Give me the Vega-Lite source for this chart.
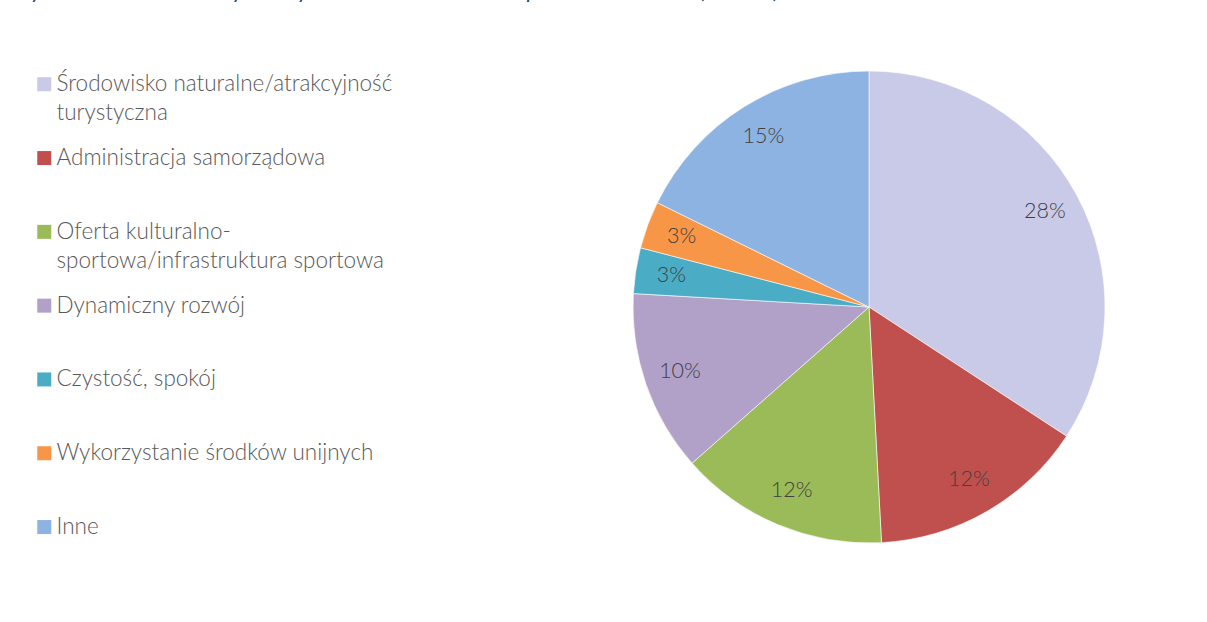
{
  "$schema": "https://vega.github.io/schema/vega-lite/v6.json",
  "width": 472,
  "height": 472,
  "autosize": {"type": "none"},
  "padding": {"left": 633, "top": 71, "right": 102, "bottom": 79},
  "background": "white",
  "config": {
    "view": {"stroke": null},
    "font": "Lato",
    "style": {"guide-label": {"lineHeight": 29}}
  },
  "title": {
    "text": "Wykres 28 Mocne strony Gminy Krosno Odrzańskie w opinii mieszkańców (N=201)",
    "anchor": "start",
    "frame": "group",
    "dx": -623,
    "offset": 49,
    "baseline": "alphabetic",
    "font": "Lato",
    "fontSize": 22.5,
    "fontStyle": "italic",
    "fontWeight": "normal",
    "color": "#1F497D"
  },
  "data": {
    "values": [
      {"kategoria": "Środowisko naturalne/atrakcyjność turystyczna", "wartosc": 28.4, "etykieta": "28%", "kolejnosc": 1},
      {"kategoria": "Administracja samorządowa", "wartosc": 12.4, "etykieta": "12%", "kolejnosc": 2},
      {"kategoria": "Oferta kulturalno-sportowa/infrastruktura sportowa", "wartosc": 11.9, "etykieta": "12%", "kolejnosc": 3},
      {"kategoria": "Dynamiczny rozwój", "wartosc": 10.3, "etykieta": "10%", "kolejnosc": 4},
      {"kategoria": "Czystość, spokój", "wartosc": 2.6, "etykieta": "3%", "kolejnosc": 5},
      {"kategoria": "Wykorzystanie środków unijnych", "wartosc": 2.7, "etykieta": "3%", "kolejnosc": 6},
      {"kategoria": "Inne", "wartosc": 14.7, "etykieta": "15%", "kolejnosc": 7}
    ]
  },
  "encoding": {
    "theta": {"field": "wartosc", "type": "quantitative", "stack": true},
    "order": {"field": "kolejnosc", "type": "quantitative"}
  },
  "layer": [
    {
      "mark": {"type": "arc", "stroke": "white", "strokeWidth": 0.6},
      "encoding": {
        "color": {
          "field": "kategoria",
          "type": "nominal",
          "scale": {
            "domain": [
              "Środowisko naturalne/atrakcyjność turystyczna",
              "Administracja samorządowa",
              "Oferta kulturalno-sportowa/infrastruktura sportowa",
              "Dynamiczny rozwój",
              "Czystość, spokój",
              "Wykorzystanie środków unijnych",
              "Inne"
            ],
            "range": ["#C9CAE7", "#C0504D", "#9BBB59", "#B1A0C7", "#4BACC6", "#F79646", "#8DB3E2"]
          },
          "legend": {
            "orient": "none",
            "legendX": -600,
            "legendY": 2,
            "title": null,
            "symbolType": "square",
            "symbolSize": 196,
            "symbolStrokeWidth": 0,
            "labelFont": "Lato",
            "labelFontSize": 22.5,
            "labelFontWeight": 300,
            "labelColor": "#595959",
            "labelOffset": 1,
            "labelLimit": 440,
            "labelBaseline": "middle",
            "gridAlign": "all",
            "rowPadding": 21.8,
            "padding": 0,
            "labelExpr": "datum.label == 'Środowisko naturalne/atrakcyjność turystyczna' ? ['Środowisko naturalne/atrakcyjność', 'turystyczna'] : datum.label == 'Oferta kulturalno-sportowa/infrastruktura sportowa' ? ['Oferta kulturalno-', 'sportowa/infrastruktura sportowa'] : datum.label"
          }
        }
      }
    },
    {
      "mark": {"type": "text", "radius": 200, "font": "Lato", "fontSize": 21.5, "fontWeight": 300, "color": "#404040", "align": "center", "baseline": "middle"},
      "encoding": {"text": {"field": "etykieta", "type": "nominal"}}
    }
  ]
}
